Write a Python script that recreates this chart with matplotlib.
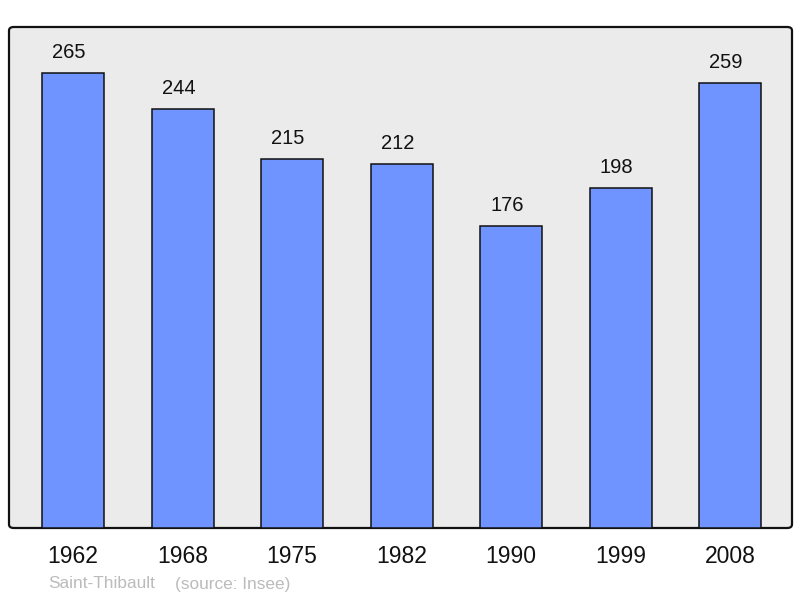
import matplotlib
matplotlib.use("Agg")
import matplotlib.pyplot as plt
from matplotlib.patches import FancyBboxPatch

years = ["1962", "1968", "1975", "1982", "1990", "1999", "2008"]
population = [265, 244, 215, 212, 176, 198, 259]
commune = "Saint-Thibault"
source = "(source: Insee)"

plt.rcParams['font.family'] = ['Liberation Sans', 'DejaVu Sans']

fig = plt.figure(figsize=(8.0, 5.98), dpi=100)
W, H = 800, 598
ax = fig.add_axes([9 / W, 1 - 528 / H, 783 / W, 501 / H])
ax.set_facecolor('none')
ax.set_zorder(1)

# rounded frame
frame = FancyBboxPatch((9 / W, 1 - 528 / H), 783 / W, 501 / H,
                       boxstyle="round,pad=0,rounding_size=0.006",
                       transform=fig.transFigure, facecolor='#ebebeb',
                       edgecolor='#111111', linewidth=1.6, zorder=-5)
fig.patches.append(frame)
for s in ax.spines.values():
    s.set_visible(False)

x = list(range(len(years)))
ax.bar(x, population, width=0.566, color='#7094ff',
       edgecolor='#111111', linewidth=1.1, zorder=2)
for xi, v in zip(x, population):
    ax.annotate(str(v), (xi, v), xytext=(-3, 8), textcoords='offset points',
                ha='center', va='bottom', fontsize=14.5, color='#111111')

ax.set_xlim(-0.585, 6.565)
ax.set_ylim(0, 291.8)
ax.set_xticks(x)
ax.set_xticklabels(years, fontsize=16.5, color='#111111')
ax.tick_params(axis='x', length=0, pad=12)
ax.set_yticks([])

fig.text(48 / W, 1 - 584 / H, commune, fontsize=12.4, color='#bbbbbb',
         ha='left', va='center')
fig.text(175 / W, 1 - 584 / H, source, fontsize=12.4, color='#bbbbbb',
         ha='left', va='center')

fig.savefig("out.png", dpi=100)
